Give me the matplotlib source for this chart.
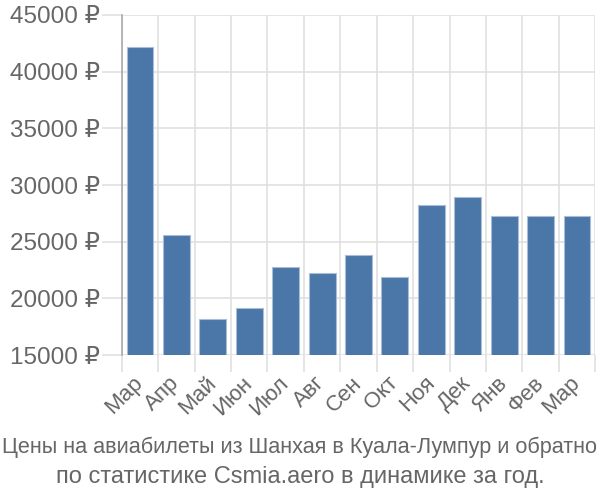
import numpy as np
import matplotlib.pyplot as plt
from matplotlib.ticker import FuncFormatter

plt.rcParams['font.family'] = ['Liberation Sans', 'DejaVu Sans']

# DATA
months = ['Мар', 'Апр', 'Май', 'Июн', 'Июл', 'Авг', 'Сен',
          'Окт', 'Ноя', 'Дек', 'Янв', 'Фев', 'Мар']
prices = [42150, 25550, 18150, 19150, 22750, 22250, 23800,
          21850, 28200, 28900, 27250, 27250, 27300]
yticks = [15000, 20000, 25000, 30000, 35000, 40000, 45000]

text_color = '#666666'
grid_color = '#e0e0e0'

fig = plt.figure(figsize=(6, 5), dpi=100)
ax = fig.add_axes([0.203, 0.29, 0.789, 0.68])

x = np.arange(len(months))
ax.bar(x, prices, width=0.74, bottom=0, color='#4a76a8',
       edgecolor='#a9bdd6', linewidth=0.8, zorder=3)

ax.set_xlim(-0.5, len(months) - 0.5)
ax.set_ylim(15000, 45000)

# y axis
ax.set_yticks(yticks)
ax.yaxis.set_major_formatter(FuncFormatter(lambda v, p: f'{int(v)} ₽'))
ax.tick_params(axis='y', length=14.5, width=1.2, color=grid_color,
               labelsize=17.5, labelcolor=text_color, pad=1)
ax.grid(axis='y', color=grid_color, linewidth=1.2, zorder=0)

# x axis: grid at category boundaries, labels at centres
ax.set_xticks(np.arange(-0.5, len(months), 1.0))
ax.set_xticklabels([])
ax.set_xticks(x, minor=True)
ax.set_xticklabels(months, minor=True, rotation=45, ha='right', va='center',
                   rotation_mode='anchor', fontsize=16, color=text_color)
ax.tick_params(axis='x', which='major', length=12, width=1.2, color=grid_color)
ax.tick_params(axis='x', which='minor', length=0, pad=18)
ax.grid(axis='x', which='major', color=grid_color, linewidth=1.2, zorder=0)

for s in ['top', 'right', 'bottom']:
    ax.spines[s].set_visible(False)
ax.spines['left'].set_color('#aaaaaa')
ax.spines['left'].set_linewidth(1.2)

fig.text(0.5, 0.106, 'Цены на авиабилеты из Шанхая в Куала-Лумпур и обратно',
         ha='center', va='center', fontsize=15.6, color=text_color)
fig.text(0.5, 0.046, 'по статистике Csmia.aero в динамике за год.',
         ha='center', va='center', fontsize=17, color=text_color)

fig.savefig('out.png', dpi=100)
